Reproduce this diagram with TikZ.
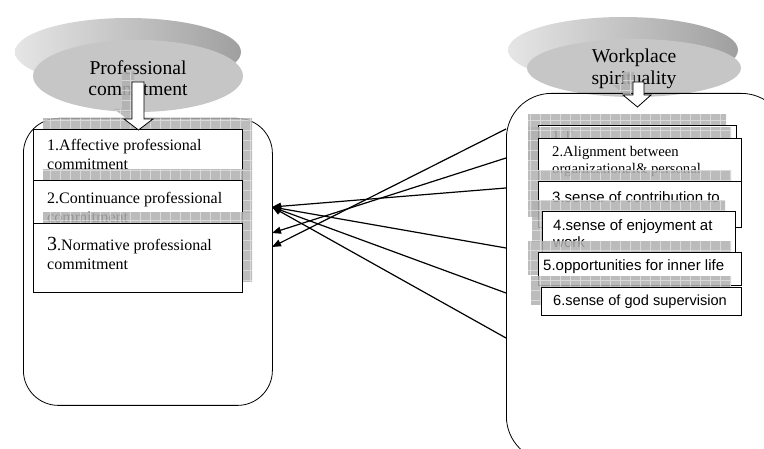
\documentclass[tikz,border=0pt]{standalone}
\usepackage{fontspec}
\setmainfont{Liberation Serif}
\newfontfamily\arialf{Liberation Sans}
\usetikzlibrary{arrows.meta}

\newcommand{\hatchfill}[1]{%
  \begin{scope}
    \clip #1;
    \fill[gray!62, opacity=.85] (0,0) rectangle (764,449);
    \draw[white, opacity=.45, line width=.7pt, step=10pt] (0,0) grid (764,449);
  \end{scope}}

\tikzset{
  panel/.style={draw, line width=0.8pt, inner sep=0pt, anchor=north west},
  itembox/.style={draw, line width=0.8pt, fill=white, inner sep=0pt, anchor=north west},
  blockarrow/.style={draw, line width=0.8pt, fill=white},
  serift/.style={inner sep=0pt, align=left, font=\fontsize{16}{19}\selectfont},
  sanst/.style={inner sep=0pt, align=left, font=\arialf\fontsize{15}{17}\selectfont},
  titlet/.style={inner sep=0pt, align=center, font=\fontsize{19.6}{21.5}\selectfont},
  link/.style={line width=1.2pt, -{Triangle[length=9pt,width=7pt]}},
}

\begin{document}
\begin{tikzpicture}[x=1pt, y=-1pt]
\useasboundingbox (0,0) rectangle (764,449);

% ---- ellipses (3D discs)
\shade[left color=gray!20, right color=gray!75] (128,52) ellipse [x radius=113, y radius=34];
\fill[gray!45] (138,76) ellipse [x radius=105, y radius=36];
\node[titlet] (pc) at (138,78) {Professional\\commitment};

\shade[left color=gray!20, right color=gray!75] (623,50) ellipse [x radius=115, y radius=33];
\fill[gray!45] (634,68) ellipse [x radius=107, y radius=29];
\node[titlet] (ws) at (634,69) {Workplace\\spirituality};

% ---- panels
\node[panel, rounded corners=35pt, minimum width=249pt, minimum height=287pt] (L) at (23,118) {};
\node[panel, rounded corners=45pt, minimum width=280pt, minimum height=368pt] (R) at (506,93) {};

% ---- left item boxes
\hatchfill{(43,119) rectangle (252,170)}
\node[itembox, minimum width=209pt, minimum height=51pt] (b1) at (33,129) {};
\node[serift, anchor=west] (t1) at (47,154) {1.Affective professional\\commitment};
\hatchfill{(43,170) rectangle (252,213)}
\node[itembox, minimum width=209pt, minimum height=43pt] (b2) at (33,180) {};
\node[serift, anchor=west] (t2) at (47,207) {2.Continuance professional\\commitment};
\hatchfill{(43,213) rectangle (252,282)}
\node[itembox, minimum width=209pt, minimum height=69pt] (b3) at (33,223) {};
\node[serift, anchor=west] (t3) at (47,253) {{\fontsize{20}{20}\selectfont 3}.Normative professional\\commitment};

% ---- right item boxes
\hatchfill{(528,115) rectangle (726,160)}
\node[itembox, minimum width=198pt, minimum height=45pt] (r1) at (538,125) {};
\node[serift, anchor=west, font=\fontsize{15}{17}\selectfont] (u1) at (552,136) {1.T};
\hatchfill{(528,128) rectangle (731,171)}
\node[itembox, minimum width=203pt, minimum height=43pt] (r2) at (538,138) {};
\node[serift, anchor=west, font=\fontsize{14.7}{17}\selectfont] (u2) at (552,161.5) {2.Alignment between\\organizational\& personal};
\hatchfill{(528,171) rectangle (731,217)}
\node[itembox, minimum width=203pt, minimum height=46pt] (r3) at (538,181) {};
\node[sanst, anchor=west] (u3) at (552,197) {3.sense of contribution to};
\hatchfill{(532,201) rectangle (725,242)}
\node[itembox, minimum width=193pt, minimum height=41pt] (r4) at (542,211) {};
\node[sanst, anchor=west] (u4) at (553,233.5) {4.sense of enjoyment at\\work};
\hatchfill{(528,242) rectangle (731,275)}
\node[itembox, minimum width=203pt, minimum height=33pt] (r5) at (538,252) {};
\node[sanst, anchor=west] (u5) at (543,267) {5.opportunities for inner life};
\hatchfill{(531,277) rectangle (731,305)}
\node[itembox, minimum width=200pt, minimum height=28pt] (r6) at (541,287) {};
\node[sanst, anchor=west, font=\arialf\fontsize{14.6}{17}\selectfont] (u6) at (553,302) {6.sense of god supervision};

% ---- block arrows
\hatchfill{(122,72) -- (134,72) -- (134,109) -- (143,109) -- (128.5,120) -- (114,109) -- (122,109) -- cycle}
\draw[blockarrow] (132,82) -- (144,82) -- (144,119) -- (153,119) -- (138.5,130) -- (124,119) -- (132,119) -- cycle;
\hatchfill{(623,72) -- (634,72) -- (634,85) -- (641,85) -- (627,97) -- (613,85) -- (623,85) -- cycle}
\draw[blockarrow] (633,82) -- (644,82) -- (644,95) -- (651,95) -- (637.5,107) -- (623,95) -- (633,95) -- cycle;

% ---- connectors
\coordinate (T1) at (272,207);
\coordinate (T2) at (272,233);
\coordinate (T3) at (272,247);
\coordinate (s1) at (506,129);
\coordinate (s2) at (506,158);
\coordinate (s3) at (506,188);
\coordinate (s4) at (506,248);
\coordinate (s5) at (506,293);
\coordinate (s6) at (506,338);
\draw[link] (s3) -- (T1);
\draw[link] (s4) -- (T1);
\draw[link] (s5) -- (T1);
\draw[link] (s6) -- (T1);
\draw[link] (s2) -- (T2);
\draw[link] (s1) -- (T3);
\end{tikzpicture}
\end{document}
